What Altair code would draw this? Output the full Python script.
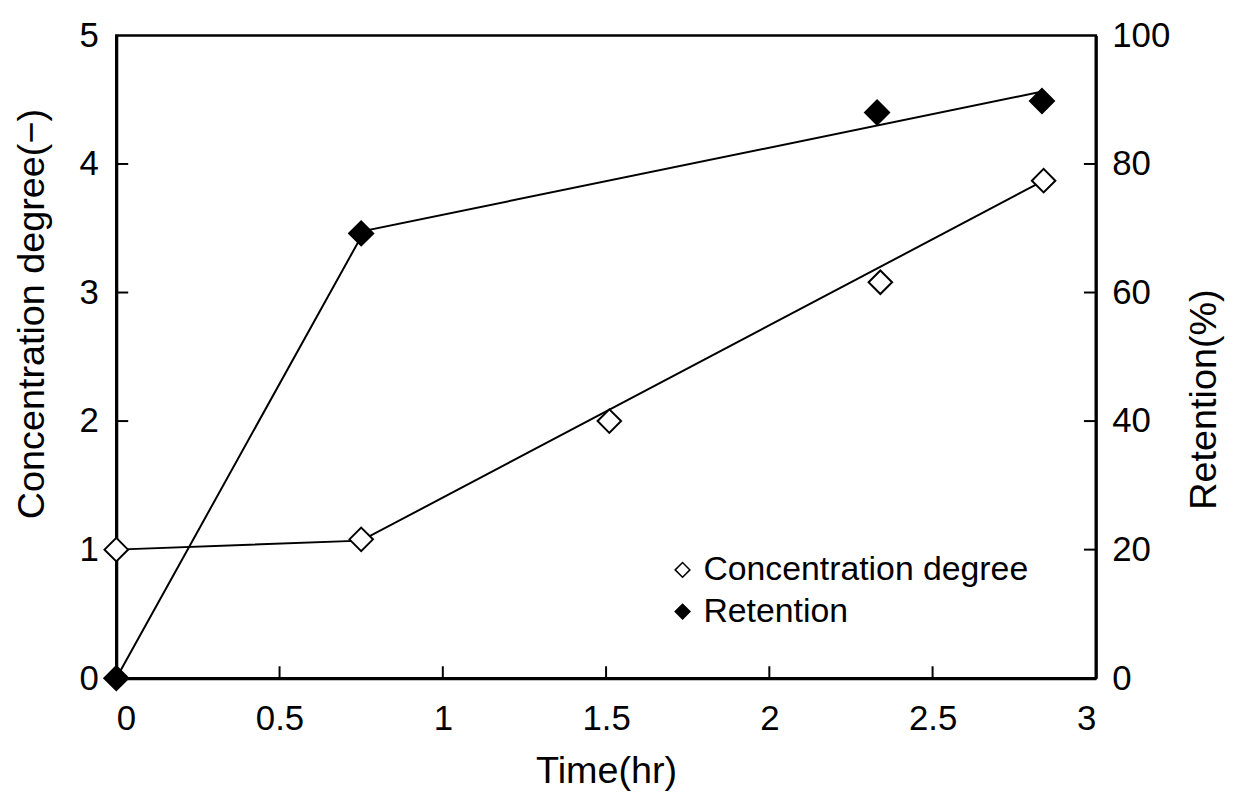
import altair as alt
import pandas as pd

# Measured data points
time_conc = [0.0, 0.75, 1.51, 2.34, 2.84]
conc_vals = [1.0, 1.08, 2.0, 3.08, 3.87]
time_ret = [0.0, 0.75, 2.33, 2.835]
ret_vals = [0.0, 69.2, 88.0, 89.8]

# Drawn (fitted) line vertices
conc_line_t = [0.0, 0.75, 2.84]
conc_line_v = [1.0, 1.07, 3.87]
ret_line_t = [0.0, 0.76, 2.84]
ret_line_v = [0.0, 69.6, 91.3]

x_ticks = [0, 0.5, 1, 1.5, 2, 2.5, 3]
left_ticks = [0, 1, 2, 3, 4, 5]
right_ticks = [0, 20, 40, 60, 80, 100]
series = ["Concentration degree", "Retention"]

W, H = 986, 647
FONT = "Liberation Sans"

df_conc = pd.DataFrame({"t": time_conc, "v": conc_vals, "s": series[0]})
df_ret = pd.DataFrame({"t": time_ret, "v": ret_vals, "s": series[1]})
df_cl = pd.DataFrame({"t": conc_line_t, "v": conc_line_v})
df_rl = pd.DataFrame({"t": ret_line_t, "v": ret_line_v})
df_xt = pd.DataFrame({"t": x_ticks[1:-1]})
df_lt = pd.DataFrame({"v": left_ticks[1:-1]})
df_rt = pd.DataFrame({"v": right_ticks[1:-1]})

xscale = alt.Scale(domain=[0, 3], nice=False, zero=False)
xaxis = alt.Axis(values=x_ticks, title="Time(hr)", ticks=False, labelPadding=24,
                 titlePadding=16, grid=False, format="~g")
x = alt.X("t:Q", scale=xscale, axis=xaxis)

yl_scale = alt.Scale(domain=[0, 5], nice=False)
yl_axis = alt.Axis(values=left_ticks, title="Concentration degree(−)", orient="left",
                   ticks=False, labelPadding=18, titlePadding=28, grid=False, titleY=280)
yr_scale = alt.Scale(domain=[0, 100], nice=False)
yr_axis = alt.Axis(values=right_ticks, title="Retention(%)", orient="right",
                   ticks=False, labelPadding=16, titlePadding=16, grid=False,
                   titleAngle=270, titleBaseline="top", titleY=366)

fill_enc = alt.Fill("s:N", scale=alt.Scale(domain=series, range=["white", "black"]),
                    legend=alt.Legend(title=None, orient="none", legendX=553, legendY=521,
                                      symbolType="diamond", symbolSize=220,
                                      symbolStrokeColor="black", symbolStrokeWidth=1.5,
                                      labelFontSize=34, labelFont=FONT, labelColor="black",
                                      rowPadding=8, labelOffset=4, labelLimit=600))

conc_line = alt.Chart(df_cl).mark_line(color="black", strokeWidth=2).encode(
    x=x, y=alt.Y("v:Q", scale=yl_scale, axis=yl_axis))
conc_pts = alt.Chart(df_conc).mark_point(shape="diamond", size=560, stroke="black",
                                          strokeWidth=2, opacity=1, filled=False).encode(
    x=x, y=alt.Y("v:Q", scale=yl_scale, axis=yl_axis), fill=fill_enc)
xt = alt.Chart(df_xt).mark_rule(color="black", strokeWidth=2).encode(
    x=alt.X("t:Q", scale=xscale, axis=xaxis), y=alt.value(H), y2=alt.value(H - 12))
lt = alt.Chart(df_lt).mark_rule(color="black", strokeWidth=2).encode(
    y=alt.Y("v:Q", scale=yl_scale, axis=yl_axis), x=alt.value(0), x2=alt.value(12))

ret_line = alt.Chart(df_rl).mark_line(color="black", strokeWidth=2).encode(
    x=x, y=alt.Y("v:Q", scale=yr_scale, axis=yr_axis))
ret_pts = alt.Chart(df_ret).mark_point(shape="diamond", size=620, stroke="black",
                                        strokeWidth=1.5, opacity=1, filled=False).encode(
    x=x, y=alt.Y("v:Q", scale=yr_scale, axis=yr_axis), fill=fill_enc)
rt = alt.Chart(df_rt).mark_rule(color="black", strokeWidth=2).encode(
    y=alt.Y("v:Q", scale=yr_scale, axis=yr_axis), x=alt.value(W), x2=alt.value(W - 12))

left_group = alt.layer(conc_line, xt, lt, conc_pts)
right_group = alt.layer(ret_line, rt, ret_pts)

chart = alt.layer(left_group, right_group).resolve_scale(y="independent").properties(
    width=W, height=H,
    background="white",
    autosize=alt.AutoSizeParams(type="none"),
    padding={"left": 109, "top": 25, "right": 130, "bottom": 116},
).configure_view(stroke="black", strokeWidth=2.5).configure_axis(
    domainColor="black", domainWidth=3, labelFont=FONT, labelFontSize=35,
    labelColor="black", titleFont=FONT, titleFontSize=38, titleColor="black",
    titleFontWeight="normal",
)

chart.save("out.html", embed_options={"renderer": "svg", "actions": False})
